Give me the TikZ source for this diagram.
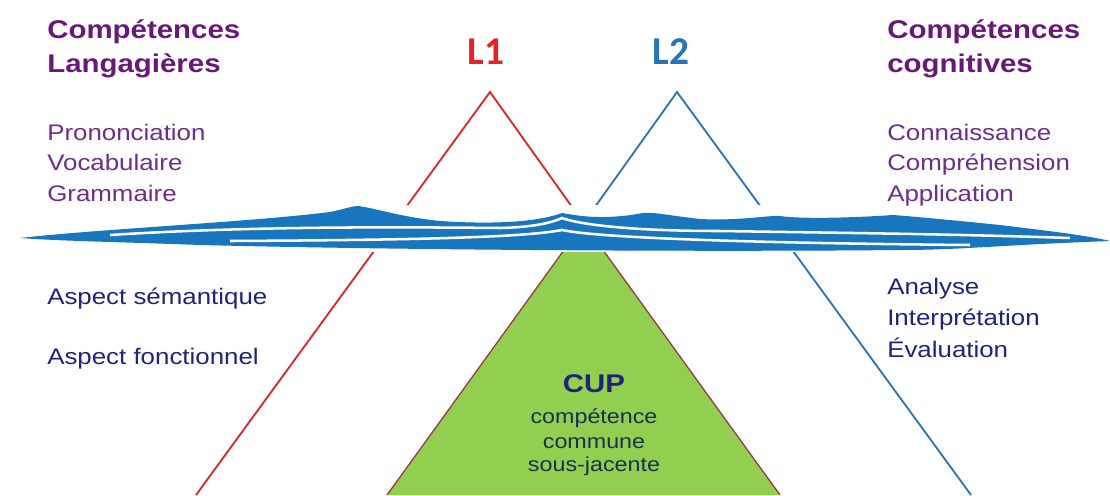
\documentclass[tikz,border=0pt]{standalone}
\usepackage{fontspec}
\setmainfont{Liberation Sans}[FakeStretch=1.15]
\newfontfamily\calfont{Carlito}
\usetikzlibrary{calc}
\definecolor{cdpurple}{RGB}{104, 24, 118}
\definecolor{cdlilac}{RGB}{112, 44, 140}
\definecolor{cdnavy}{RGB}{30, 36, 124}
\definecolor{cdred}{RGB}{226, 36, 40}
\definecolor{cdblue}{RGB}{40, 116, 180}
\definecolor{cdwater}{RGB}{24, 118, 190}
\definecolor{cdgreen}{RGB}{146, 206, 80}
\definecolor{cdedge}{RGB}{150, 56, 64}
\definecolor{cdink}{RGB}{26, 48, 78}

\begin{document}
\begin{tikzpicture}[x=0.025cm, y=-0.025cm,
  headtxt/.style={anchor=base west, inner sep=0pt, text=cdpurple, font=\fontsize{18.2}{22}\selectfont\bfseries},
  listtxt/.style={anchor=base west, inner sep=0pt, text=cdlilac, font=\fontsize{16}{20}\selectfont},
  deeptxt/.style={anchor=base west, inner sep=0pt, text=cdnavy, font=\fontsize{16}{20}\selectfont},
  cuptxt/.style={anchor=base, inner sep=0pt, text=cdink, font=\fontsize{14.4}{18}\selectfont}]
\useasboundingbox (0,0) rectangle (1110,495);

% the two triangles
\coordinate (apexL1) at (490,92);
\coordinate (apexL2) at (677,92);
\coordinate (cupTop) at (583.5,223);
\fill[cdgreen] (cupTop) -- (387,495) -- (780,495) -- cycle;
\draw[cdedge, line width=0.9pt] (387,495) -- (cupTop) -- (780,495);
\draw[cdred, line width=1.3pt] (196,495) -- (apexL1) -- (cupTop);
\draw[cdblue, line width=1.3pt] (cupTop) -- (apexL2) -- (971,495);

% water line
\fill[white] (0,205) rectangle (1110,252);
\fill[cdwater] (20,238) .. controls (100,229) and (250,222) .. (330,212)
  .. controls (345,209) and (352,206) .. (358,206)
  .. controls (375,208) and (400,217) .. (440,221)
  .. controls (500,225) and (540,221) .. (562,213)
  .. controls (575,215) and (600,221) .. (643,213)
  .. controls (655,212) and (665,215) .. (700,219)
  .. controls (740,221) and (770,215) .. (780,216)
  .. controls (800,219) and (850,218) .. (893,215)
  .. controls (920,217) and (960,221) .. (1000,225)
  .. controls (1050,231) and (1090,236) .. (1110,241)
  .. controls (1000,245) and (960,250) .. (900,250)
  .. controls (700,252) and (400,250) .. (200,245)
  .. controls (120,242) and (60,241) .. (20,238) -- cycle;
\draw[white, line width=1.8pt] (110,235) .. controls (250,226) and (400,227) .. (500,228)
  .. controls (540,227) and (555,221) .. (562,218)
  .. controls (575,223) and (620,231) .. (720,231)
  .. controls (850,233) and (950,234) .. (1070,238);
\draw[white, line width=1.8pt] (230,241) .. controls (400,240) and (520,238) .. (562,230)
  .. controls (600,238) and (750,243) .. (970,245);

% labels
\node[text=cdred, font=\fontsize{28}{32}\calfont\bfseries] (lOne) at (486,52) {L1};
\node[text=cdblue, font=\fontsize{28}{32}\calfont\bfseries] (lTwo) at (671,52) {L2};

\node[headtxt] (hdLangA) at (47,38) {Compétences};
\node[headtxt] (hdLangB) at (47,72) {Langagières};
\node[headtxt] (hdCogA) at (887,38) {Compétences};
\node[headtxt] (hdCogB) at (887,72) {cognitives};

\node[listtxt] (pron) at (47,140) {Prononciation};
\node[listtxt] (voca) at (47,170) {Vocabulaire};
\node[listtxt] (gram) at (47,201) {Grammaire};
\node[listtxt] (conn) at (887,140) {Connaissance};
\node[listtxt] (comp) at (887,170) {Compréhension};
\node[listtxt] (appl) at (887,201) {Application};

\node[deeptxt] (aspSem) at (47,304) {Aspect sémantique};
\node[deeptxt] (aspFon) at (47,364) {Aspect fonctionnel};
\node[deeptxt] (anal) at (887,294) {Analyse};
\node[deeptxt] (inte) at (887,325) {Interprétation};
\node[deeptxt] (eval) at (887,357) {Évaluation};

\node[anchor=base, inner sep=0pt, text=cdnavy, font=\fontsize{18.2}{22}\selectfont\bfseries] (cup) at (594,392) {CUP};
\node[cuptxt] (cupA) at (594,423) {compétence};
\node[cuptxt] (cupB) at (594,448) {commune};
\node[cuptxt] (cupC) at (594,471) {sous-jacente};
\end{tikzpicture}
\end{document}
